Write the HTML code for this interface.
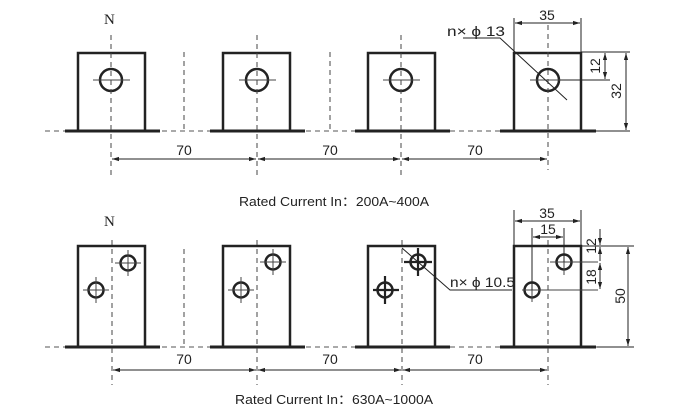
<!DOCTYPE html>
<html><head><meta charset="utf-8"><style>body{margin:0;background:#fff}svg{display:block}</style></head><body>
<svg width="677" height="420" viewBox="0 0 677 420" xmlns="http://www.w3.org/2000/svg" font-family="Liberation Sans, sans-serif">
<defs><marker id="a" viewBox="0 0 10 10" refX="10" refY="5" markerWidth="7" markerHeight="7" orient="auto-start-reverse"><path d="M0,2 L10,5 L0,8z" fill="#222"/></marker></defs>
<g stroke="#222" fill="none">
<!-- TOP ROW -->
<line x1="45" y1="131" x2="600" y2="131" stroke-width="1" stroke-dasharray="5,4" stroke="#555"/>
<g stroke-width="3">
<line x1="65" y1="131" x2="160" y2="131"/><line x1="210" y1="131" x2="305" y2="131"/><line x1="355" y1="131" x2="450" y2="131"/><line x1="500" y1="131" x2="596" y2="131"/>
</g>
<g stroke-width="2.5">
<path d="M78,131 V53 H145 V131"/><path d="M223,131 V53 H290 V131"/><path d="M368,131 V53 H435 V131"/><path d="M514,131 V53 H581 V131"/>
<circle cx="111" cy="80" r="11"/><circle cx="257" cy="80" r="11"/><circle cx="401" cy="80" r="11"/><circle cx="548" cy="80" r="11"/>
</g>
<g stroke-width="1" stroke="#444">
<line x1="93" y1="80" x2="130" y2="80"/><line x1="239" y1="80" x2="276" y2="80"/><line x1="383" y1="80" x2="420" y2="80"/><line x1="530" y1="80" x2="566" y2="80"/>
</g>
<g stroke-width="1" stroke-dasharray="5,4" stroke="#444">
<line x1="111" y1="35" x2="111" y2="175"/><line x1="257" y1="35" x2="257" y2="175"/><line x1="401" y1="35" x2="401" y2="175"/><line x1="548" y1="25" x2="548" y2="170"/>
<line x1="184" y1="52" x2="184" y2="131"/><line x1="330" y1="52" x2="330" y2="131"/>
</g>
<g stroke-width="1">
<line x1="112" y1="159" x2="256" y2="159" marker-start="url(#a)" marker-end="url(#a)"/>
<line x1="258" y1="159" x2="400" y2="159" marker-start="url(#a)" marker-end="url(#a)"/>
<line x1="402" y1="159" x2="547" y2="159" marker-start="url(#a)" marker-end="url(#a)"/>
<line x1="514" y1="52" x2="514" y2="18"/><line x1="581" y1="52" x2="581" y2="18"/>
<line x1="515" y1="23" x2="580" y2="23" marker-start="url(#a)" marker-end="url(#a)"/>
<line x1="581" y1="52" x2="630" y2="52"/><line x1="560" y1="80" x2="610" y2="80"/><line x1="596" y1="131" x2="630" y2="131"/>
<line x1="605" y1="53" x2="605" y2="79" marker-start="url(#a)" marker-end="url(#a)"/>
<line x1="626" y1="53" x2="626" y2="130" marker-start="url(#a)" marker-end="url(#a)"/>
<polyline points="463,38 500,38 567,100"/>
</g>
<!-- BOTTOM ROW -->
<line x1="45" y1="347" x2="600" y2="347" stroke-width="1" stroke-dasharray="5,4" stroke="#555"/>
<g stroke-width="3">
<line x1="65" y1="347" x2="160" y2="347"/><line x1="210" y1="347" x2="305" y2="347"/><line x1="355" y1="347" x2="450" y2="347"/><line x1="500" y1="347" x2="596" y2="347"/>
</g>
<g stroke-width="2.5">
<path d="M78,347 V246 H145 V347"/><path d="M223,347 V246 H290 V347"/><path d="M368,347 V246 H435 V347"/><path d="M514,347 V246 H581 V347"/>
<circle cx="128" cy="263" r="7.5"/><circle cx="96" cy="290" r="7.5"/>
<circle cx="273" cy="262" r="7.5"/><circle cx="241" cy="290" r="7.5"/>
<circle cx="418" cy="262" r="7.5"/><circle cx="385" cy="290" r="7.5"/>
<circle cx="564" cy="262" r="7.5"/><circle cx="532" cy="290" r="7.5"/>
</g>
<g stroke-width="1" stroke="#444">
<path d="M115,263 H141 M128,250 V276 M83,290 H109 M96,277 V303"/>
<path d="M260,262 H286 M273,249 V275 M228,290 H254 M241,277 V303"/>
<path d="M550,262 H598 M564,249 V275 M522,290 H598 M532,280 V302"/>
</g>
<g stroke-width="2.2"><path d="M404,262 H432 M418,248 V276 M373,290 H399 M385,276 V304"/></g>
<g stroke-width="1" stroke-dasharray="5,4" stroke="#444">
<line x1="112" y1="240" x2="112" y2="385"/><line x1="257" y1="240" x2="257" y2="385"/><line x1="402" y1="240" x2="402" y2="385"/><line x1="548" y1="240" x2="548" y2="385"/>
<line x1="184" y1="249" x2="184" y2="347"/>
</g>
<g stroke-width="1">
<line x1="113" y1="370" x2="256" y2="370" marker-start="url(#a)" marker-end="url(#a)"/>
<line x1="258" y1="370" x2="401" y2="370" marker-start="url(#a)" marker-end="url(#a)"/>
<line x1="403" y1="370" x2="547" y2="370" marker-start="url(#a)" marker-end="url(#a)"/>
<line x1="514" y1="246" x2="514" y2="210"/><line x1="581" y1="246" x2="581" y2="210"/>
<line x1="532" y1="290" x2="532" y2="228"/><line x1="564" y1="262" x2="564" y2="228"/>
<line x1="515" y1="221" x2="580" y2="221" marker-start="url(#a)" marker-end="url(#a)"/>
<line x1="533" y1="237" x2="563" y2="237" marker-start="url(#a)" marker-end="url(#a)"/>
<line x1="581" y1="246" x2="634" y2="246"/><line x1="597" y1="347" x2="634" y2="347"/>
<line x1="600" y1="229" x2="600" y2="245" marker-end="url(#a)"/>
<line x1="600" y1="247" x2="600" y2="261" marker-start="url(#a)"/>
<line x1="600" y1="263" x2="600" y2="289" marker-start="url(#a)" marker-end="url(#a)"/>
<line x1="628" y1="247" x2="628" y2="346" marker-start="url(#a)" marker-end="url(#a)"/>
<polyline points="402,248 450,290 512,290"/>
</g>
</g>
<g fill="#222" font-size="14">
<text x="104" y="24" font-family="Liberation Serif, serif" font-size="15">N</text>
<text x="104" y="226" font-family="Liberation Serif, serif" font-size="15">N</text>
<text x="184" y="155" text-anchor="middle">70</text><text x="330" y="155" text-anchor="middle">70</text><text x="475" y="155" text-anchor="middle">70</text>
<text x="184" y="364" text-anchor="middle">70</text><text x="330" y="364" text-anchor="middle">70</text><text x="475" y="364" text-anchor="middle">70</text>
<text x="547" y="20" text-anchor="middle">35</text>
<text x="547" y="218" text-anchor="middle">35</text>
<text x="548" y="234" text-anchor="middle">15</text>
<text x="447" y="36" textLength="58" lengthAdjust="spacingAndGlyphs">n× ϕ 13</text>
<text x="450" y="287" textLength="65" lengthAdjust="spacingAndGlyphs">n× ϕ 10.5</text>
<text transform="translate(600,66) rotate(-90)" text-anchor="middle">12</text>
<text transform="translate(621,91) rotate(-90)" text-anchor="middle">32</text>
<text transform="translate(596,246) rotate(-90)" text-anchor="middle">12</text>
<text transform="translate(596,277) rotate(-90)" text-anchor="middle">18</text>
<text transform="translate(625,296) rotate(-90)" text-anchor="middle">50</text>
<text x="239" y="206" font-size="13" textLength="190" lengthAdjust="spacingAndGlyphs">Rated Current In：200A~400A</text>
<text x="235" y="404" font-size="13" textLength="198" lengthAdjust="spacingAndGlyphs">Rated Current In：630A~1000A</text>
</g>
</svg>
</body></html>
